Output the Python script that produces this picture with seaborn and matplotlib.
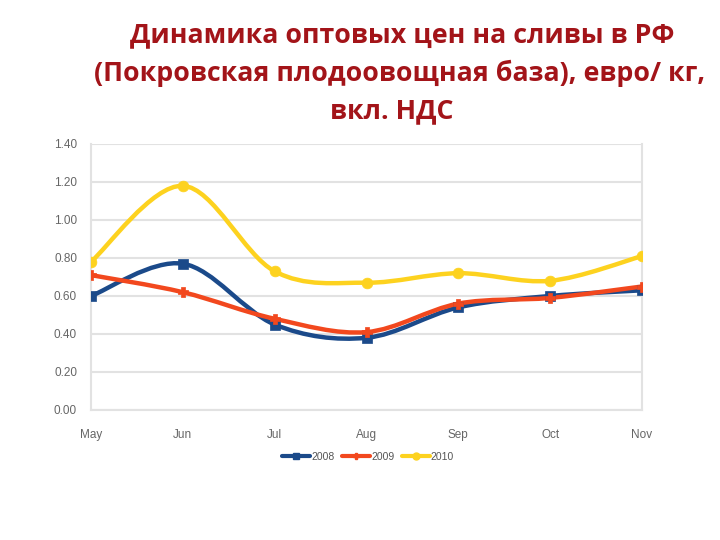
import matplotlib
matplotlib.use("Agg")
import matplotlib.pyplot as plt
from matplotlib.path import Path
from matplotlib.patches import PathPatch
from matplotlib.lines import Line2D
import seaborn as sns
import pandas as pd
import numpy as np

months = ["May", "Jun", "Jul", "Aug", "Sep", "Oct", "Nov"]
years = ["2008", "2009", "2010"]
v2008 = [0.60, 0.77, 0.45, 0.38, 0.54, 0.60, 0.63]
v2009 = [0.71, 0.62, 0.48, 0.41, 0.56, 0.59, 0.65]
v2010 = [0.78, 1.18, 0.73, 0.67, 0.72, 0.68, 0.81]
yticks = [0.0, 0.2, 0.4, 0.6, 0.8, 1.0, 1.2, 1.4]
title_lines = ["Динамика оптовых цен на сливы в РФ",
               "(Покровская плодоовощная база), евро/ кг,",
               "вкл. НДС"]

colors = {"2008": "#1b4a8a", "2009": "#f2481e", "2010": "#fdd21f"}
markers = {"2008": "s", "2009": "P", "2010": "o"}
msizes = {"2008": 60, "2009": 45, "2010": 60}

sns.set_theme(style="white")
plt.rcParams['font.family'] = ['Liberation Sans', 'DejaVu Sans']

rows = []
for y, vals in zip(years, [v2008, v2009, v2010]):
    for i, (m, v) in enumerate(zip(months, vals)):
        rows.append({"year": y, "month": m, "x": i, "value": v})
df = pd.DataFrame(rows)

fig = plt.figure(figsize=(7.2, 5.4), dpi=100)
ax = fig.add_axes([91/720, 1-410/540, (642-91)/720, (410-144)/540])

def smooth_path(xs, ys):
    pts = np.column_stack([xs, ys]).astype(float)
    n = len(pts)
    verts = [pts[0]]
    codes = [Path.MOVETO]
    for i in range(n - 1):
        p0 = pts[i - 1] if i > 0 else pts[i]
        p1 = pts[i]
        p2 = pts[i + 1]
        p3 = pts[i + 2] if i + 2 < n else pts[i + 1]
        c1 = p1 + (p2 - p0) / 6.0
        c2 = p2 - (p3 - p1) / 6.0
        verts += [c1, c2, p2]
        codes += [Path.CURVE4] * 3
    return Path(verts, codes)

for y in years:
    sub = df[df.year == y]
    patch = PathPatch(smooth_path(sub.x.values, sub.value.values), facecolor="none",
                      edgecolor=colors[y], lw=3.2, capstyle="round", joinstyle="round",
                      zorder=3)
    ax.add_patch(patch)
    sns.scatterplot(data=sub, x="x", y="value", color=colors[y], marker=markers[y],
                    s=msizes[y], edgecolor=colors[y], linewidth=0.5, ax=ax, zorder=4,
                    legend=False)

ax.set_xlim(0, 6)
ax.set_ylim(0, 1.4)
ax.set_yticks(yticks)
ax.set_yticklabels([f"{t:.2f}" for t in yticks])
ax.set_xticks(range(len(months)))
ax.set_xticklabels(months)
ax.set_xlabel("")
ax.set_ylabel("")
ax.grid(axis="y", color="#e2e2e2", lw=1.5)
ax.grid(axis="x", visible=False)
ax.spines["top"].set_visible(False)
for s in ["left", "right", "bottom"]:
    ax.spines[s].set_color("#e2e2e2")
    ax.spines[s].set_linewidth(1.5)
ax.tick_params(axis="both", colors="#e2e2e2", labelcolor="#666666", labelsize=8.5,
               length=4, width=1.2, direction="out")
ax.tick_params(axis="x", pad=10)
ax.tick_params(axis="y", pad=6)
ax.set_axisbelow(True)

handles = [Line2D([0], [0], color=colors[y], lw=3, marker=markers[y], markersize=5)
           for y in years]
fig.legend(handles, years, loc="center", bbox_to_anchor=(368/720, 1-457/540), ncol=3,
           frameon=False, fontsize=7.5, handlelength=2.7, columnspacing=0.7,
           handletextpad=0.1, labelcolor="#555555")

title_x = [402, 400, 392]
title_y = [35, 73, 111]
for txt, tx, ty in zip(title_lines, title_x, title_y):
    fig.text(tx/720, 1-ty/540, txt, ha="center", va="center", fontsize=19.3,
             fontweight="bold", color="#a31419",
             family=["Open Sans", "DejaVu Sans"])

fig.savefig("out.png", dpi=100)
